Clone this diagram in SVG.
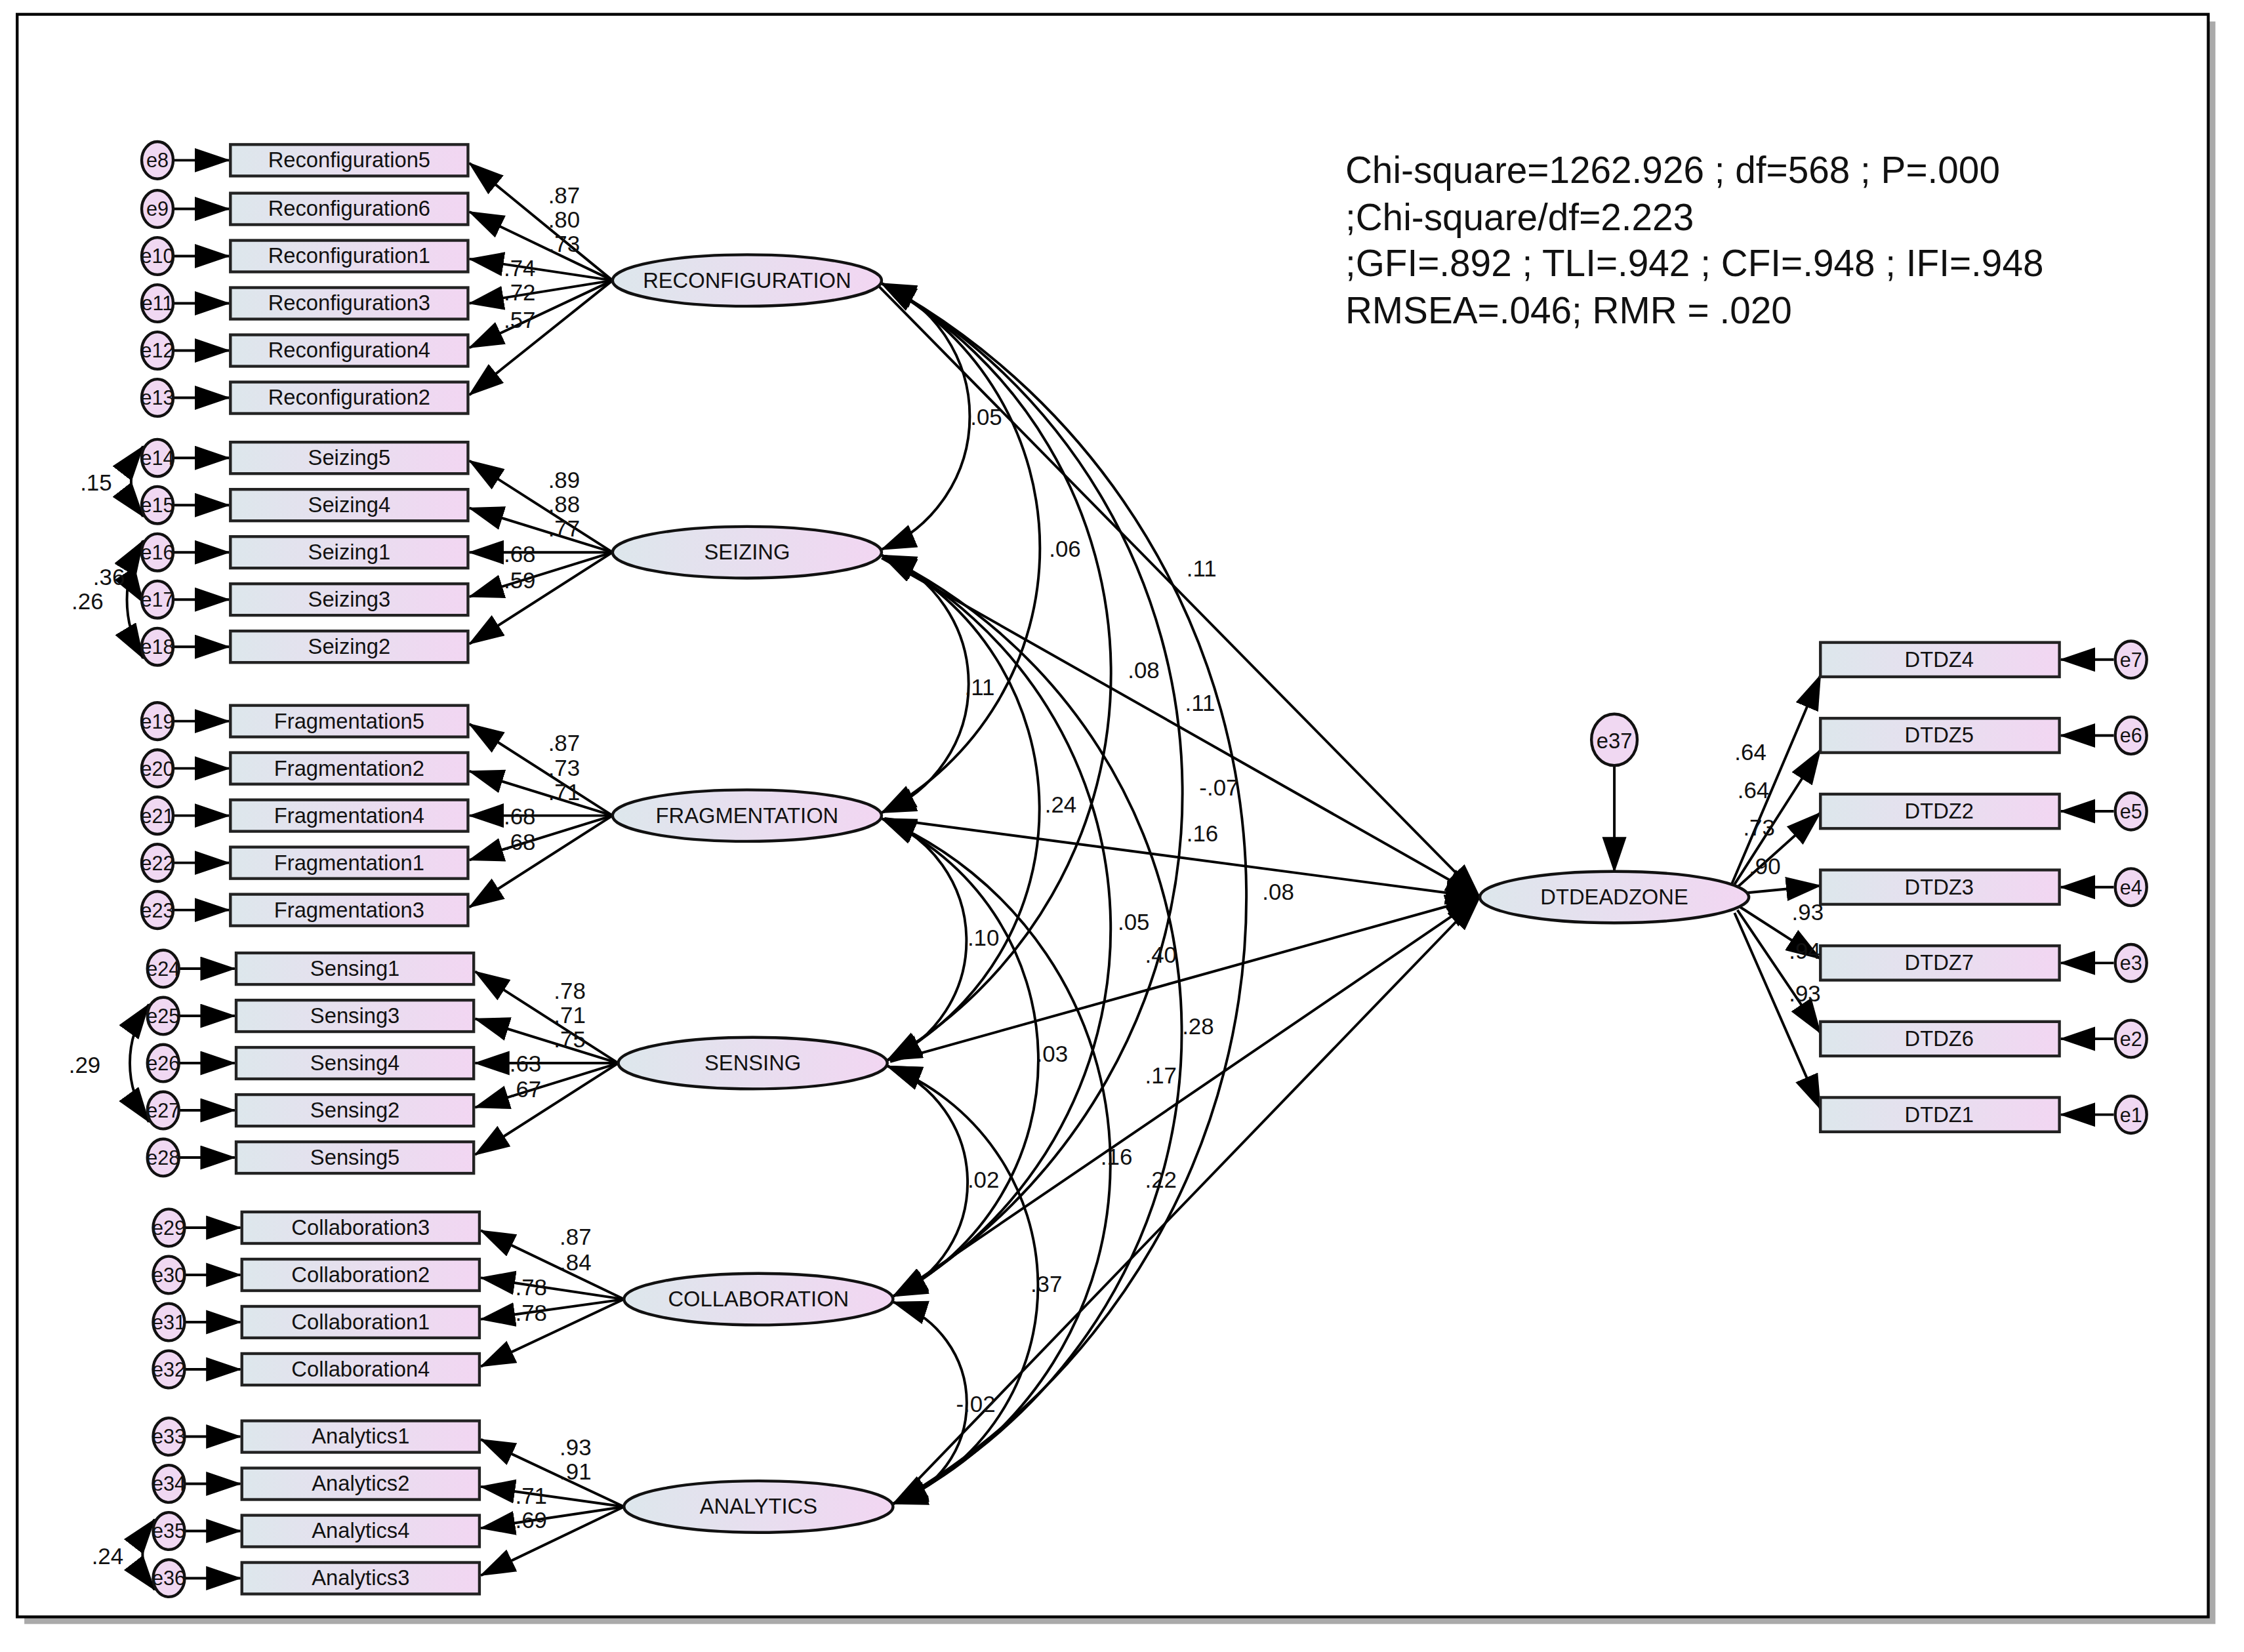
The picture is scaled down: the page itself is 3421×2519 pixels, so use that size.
<svg xmlns="http://www.w3.org/2000/svg" width="3421" height="2519" viewBox="0 0 3421 2519">
<defs>
<linearGradient id="g" x1="0" x2="1" y1="0" y2="0"><stop offset="0" stop-color="#dde7ec"/><stop offset="1" stop-color="#f2d6f2"/></linearGradient>
<marker id="a" markerUnits="userSpaceOnUse" markerWidth="26" markerHeight="18" refX="24" refY="8.5" orient="auto-start-reverse" viewBox="0 0 26 18"><path d="M0,0 L25,8.5 L0,17 z" fill="#000"/></marker>
<style>
.box{fill:url(#g);stroke:#222;stroke-width:2}
.lat{fill:url(#g);stroke:#111;stroke-width:2}
.err{fill:#f0d8f2;stroke:#111;stroke-width:2}
#connectors path{stroke:#000;stroke-width:1.8;fill:none;marker-end:url(#a)}
#connectors path.cv{marker-start:url(#a)}
text{font-family:"Liberation Sans",Arial,sans-serif;fill:#111}
.t{font-size:15px;text-anchor:middle}
.e{font-size:14px;text-anchor:middle}
.l{font-size:16px}
.f{font-size:26px}
</style>
</defs>
<rect width="3421" height="2519" fill="#fff"/>
<g transform="scale(2.1818)">
<rect x="17" y="15" width="1531" height="1120" fill="#aaa"/>
<rect x="12" y="10" width="1531" height="1120" fill="#fff" stroke="#000" stroke-width="2"/>
<g id="fit"><text class="f" x="940" y="128">Chi-square=1262.926 ; df=568 ; P=.000</text><text class="f" x="940" y="161">;Chi-square/df=2.223</text><text class="f" x="940" y="193">;GFI=.892 ; TLI=.942 ; CFI=.948 ; IFI=.948</text><text class="f" x="940" y="226">RMSEA=.046; RMR = .020</text></g>

<g id="connectors">
<path d="M121,112H160"/><path d="M121,146H160"/><path d="M121,179H160"/><path d="M121,212H160"/><path d="M121,245H160"/><path d="M121,278H160"/>
<path d="M121,320H160"/><path d="M121,353H160"/><path d="M121,386H160"/><path d="M121,419H160"/><path d="M121,452H160"/>
<path d="M121,504H160"/><path d="M121,537H160"/><path d="M121,570H160"/><path d="M121,603H160"/><path d="M121,636H160"/>
<path d="M125,677H164"/><path d="M125,710H164"/><path d="M125,743H164"/><path d="M125,776H164"/><path d="M125,809H164"/>
<path d="M129,858H168"/><path d="M129,891H168"/><path d="M129,924H168"/><path d="M129,957H168"/>
<path d="M129,1004H168"/><path d="M129,1037H168"/><path d="M129,1070H168"/><path d="M129,1103H168"/>
<path d="M428,196L328,114"/><path d="M428,196L328,148"/><path d="M428,196L328,181"/><path d="M428,196L328,212"/><path d="M428,196L328,243"/><path d="M428,196L328,276"/>
<path d="M428,386L328,322"/><path d="M428,386L328,355"/><path d="M428,386L328,386"/><path d="M428,386L328,417"/><path d="M428,386L328,450"/>
<path d="M428,570L328,506"/><path d="M428,570L328,539"/><path d="M428,570L328,570"/><path d="M428,570L328,601"/><path d="M428,570L328,634"/>
<path d="M432,743L332,679"/><path d="M432,743L332,712"/><path d="M432,743L332,743"/><path d="M432,743L332,774"/><path d="M432,743L332,807"/>
<path d="M436,908L336,860"/><path d="M436,908L336,893"/><path d="M436,908L336,922"/><path d="M436,908L336,955"/>
<path d="M436,1053L336,1006"/><path d="M436,1053L336,1039"/><path d="M436,1053L336,1068"/><path d="M436,1053L336,1101"/>
<path d="M614,200L1034,627"/><path d="M616,390L1034,627"/><path d="M618,572L1034,627"/><path d="M622,742L1034,627"/><path d="M626,905L1034,627"/><path d="M626,1050L1034,627"/>
<path d="M1128,535V609"/>
<path d="M1210,618L1272,472"/><path d="M1212,618L1272,524"/><path d="M1214,620L1272,568"/><path d="M1220,624L1272,619"/><path d="M1216,634L1272,670"/><path d="M1214,636L1272,722"/><path d="M1212,638L1272,775"/>
<path d="M1477,461H1440"/><path d="M1477,514H1440"/><path d="M1477,567H1440"/><path d="M1477,620H1440"/><path d="M1477,673H1440"/><path d="M1477,726H1440"/><path d="M1477,779H1440"/>
<path class="cv" d="M616,198A101 101 0 0 1 616,384"/>
<path class="cv" d="M616,198A210 210 0 0 1 616,568"/>
<path class="cv" d="M616,198A312 312 0 0 1 620,741"/>
<path class="cv" d="M616,198A407 407 0 0 1 624,906"/>
<path class="cv" d="M616,198A488 488 0 0 1 624,1051"/>
<path class="cv" d="M616,388A97 97 0 0 1 616,568"/>
<path class="cv" d="M616,388A198 198 0 0 1 620,741"/>
<path class="cv" d="M616,388A293 293 0 0 1 624,906"/>
<path class="cv" d="M616,388A370 370 0 0 1 624,1051"/>
<path class="cv" d="M616,572A91 91 0 0 1 620,741"/>
<path class="cv" d="M616,572A185 185 0 0 1 624,906"/>
<path class="cv" d="M616,572A262 262 0 0 1 624,1051"/>
<path class="cv" d="M620,745A87 87 0 0 1 624,906"/>
<path class="cv" d="M620,745A165 165 0 0 1 624,1051"/>
<path class="cv" d="M624,910A74 74 0 0 1 624,1051"/>
<path class="cv" d="M100,312A40 40 0 0 0 100,361"/>
<path class="cv" d="M100,378A40 40 0 0 0 100,421"/>
<path class="cv" d="M100,378A80 80 0 0 0 100,460"/>
<path class="cv" d="M104,702A70 70 0 0 0 104,784"/>
<path class="cv" d="M108,1062A40 40 0 0 0 108,1111"/>
</g>

<g id="indicators">
<g id="n-r5"><rect class="box" x="161" y="101" width="166" height="22"/><text class="t" x="244" y="117">Reconfiguration5</text></g>
<g id="n-r6"><rect class="box" x="161" y="135" width="166" height="22"/><text class="t" x="244" y="151">Reconfiguration6</text></g>
<g id="n-r1"><rect class="box" x="161" y="168" width="166" height="22"/><text class="t" x="244" y="184">Reconfiguration1</text></g>
<g id="n-r3"><rect class="box" x="161" y="201" width="166" height="22"/><text class="t" x="244" y="217">Reconfiguration3</text></g>
<g id="n-r4"><rect class="box" x="161" y="234" width="166" height="22"/><text class="t" x="244" y="250">Reconfiguration4</text></g>
<g id="n-r2"><rect class="box" x="161" y="267" width="166" height="22"/><text class="t" x="244" y="283">Reconfiguration2</text></g>
<g id="n-s5"><rect class="box" x="161" y="309" width="166" height="22"/><text class="t" x="244" y="325">Seizing5</text></g>
<g id="n-s4"><rect class="box" x="161" y="342" width="166" height="22"/><text class="t" x="244" y="358">Seizing4</text></g>
<g id="n-s1"><rect class="box" x="161" y="375" width="166" height="22"/><text class="t" x="244" y="391">Seizing1</text></g>
<g id="n-s3"><rect class="box" x="161" y="408" width="166" height="22"/><text class="t" x="244" y="424">Seizing3</text></g>
<g id="n-s2"><rect class="box" x="161" y="441" width="166" height="22"/><text class="t" x="244" y="457">Seizing2</text></g>
<g id="n-f5"><rect class="box" x="161" y="493" width="166" height="22"/><text class="t" x="244" y="509">Fragmentation5</text></g>
<g id="n-f2"><rect class="box" x="161" y="526" width="166" height="22"/><text class="t" x="244" y="542">Fragmentation2</text></g>
<g id="n-f4"><rect class="box" x="161" y="559" width="166" height="22"/><text class="t" x="244" y="575">Fragmentation4</text></g>
<g id="n-f1"><rect class="box" x="161" y="592" width="166" height="22"/><text class="t" x="244" y="608">Fragmentation1</text></g>
<g id="n-f3"><rect class="box" x="161" y="625" width="166" height="22"/><text class="t" x="244" y="641">Fragmentation3</text></g>
<g id="n-se1"><rect class="box" x="165" y="666" width="166" height="22"/><text class="t" x="248" y="682">Sensing1</text></g>
<g id="n-se3"><rect class="box" x="165" y="699" width="166" height="22"/><text class="t" x="248" y="715">Sensing3</text></g>
<g id="n-se4"><rect class="box" x="165" y="732" width="166" height="22"/><text class="t" x="248" y="748">Sensing4</text></g>
<g id="n-se2"><rect class="box" x="165" y="765" width="166" height="22"/><text class="t" x="248" y="781">Sensing2</text></g>
<g id="n-se5"><rect class="box" x="165" y="798" width="166" height="22"/><text class="t" x="248" y="814">Sensing5</text></g>
<g id="n-c3"><rect class="box" x="169" y="847" width="166" height="22"/><text class="t" x="252" y="863">Collaboration3</text></g>
<g id="n-c2"><rect class="box" x="169" y="880" width="166" height="22"/><text class="t" x="252" y="896">Collaboration2</text></g>
<g id="n-c1"><rect class="box" x="169" y="913" width="166" height="22"/><text class="t" x="252" y="929">Collaboration1</text></g>
<g id="n-c4"><rect class="box" x="169" y="946" width="166" height="22"/><text class="t" x="252" y="962">Collaboration4</text></g>
<g id="n-a1"><rect class="box" x="169" y="993" width="166" height="22"/><text class="t" x="252" y="1009">Analytics1</text></g>
<g id="n-a2"><rect class="box" x="169" y="1026" width="166" height="22"/><text class="t" x="252" y="1042">Analytics2</text></g>
<g id="n-a4"><rect class="box" x="169" y="1059" width="166" height="22"/><text class="t" x="252" y="1075">Analytics4</text></g>
<g id="n-a3"><rect class="box" x="169" y="1092" width="166" height="22"/><text class="t" x="252" y="1108">Analytics3</text></g>
<g id="n-d4"><rect class="box" x="1272" y="449" width="167" height="24"/><text class="t" x="1355" y="466">DTDZ4</text></g>
<g id="n-d5"><rect class="box" x="1272" y="502" width="167" height="24"/><text class="t" x="1355" y="519">DTDZ5</text></g>
<g id="n-d2"><rect class="box" x="1272" y="555" width="167" height="24"/><text class="t" x="1355" y="572">DTDZ2</text></g>
<g id="n-d3"><rect class="box" x="1272" y="608" width="167" height="24"/><text class="t" x="1355" y="625">DTDZ3</text></g>
<g id="n-d7"><rect class="box" x="1272" y="661" width="167" height="24"/><text class="t" x="1355" y="678">DTDZ7</text></g>
<g id="n-d6"><rect class="box" x="1272" y="714" width="167" height="24"/><text class="t" x="1355" y="731">DTDZ6</text></g>
<g id="n-d1"><rect class="box" x="1272" y="767" width="167" height="24"/><text class="t" x="1355" y="784">DTDZ1</text></g>
</g>

<g id="errors">
<g><ellipse class="err" cx="110" cy="112" rx="11" ry="13"/><text class="e" x="110" y="117">e8</text></g>
<g><ellipse class="err" cx="110" cy="146" rx="11" ry="13"/><text class="e" x="110" y="151">e9</text></g>
<g><ellipse class="err" cx="110" cy="179" rx="11" ry="13"/><text class="e" x="110" y="184">e10</text></g>
<g><ellipse class="err" cx="110" cy="212" rx="11" ry="13"/><text class="e" x="110" y="217">e11</text></g>
<g><ellipse class="err" cx="110" cy="245" rx="11" ry="13"/><text class="e" x="110" y="250">e12</text></g>
<g><ellipse class="err" cx="110" cy="278" rx="11" ry="13"/><text class="e" x="110" y="283">e13</text></g>
<g><ellipse class="err" cx="110" cy="320" rx="11" ry="13"/><text class="e" x="110" y="325">e14</text></g>
<g><ellipse class="err" cx="110" cy="353" rx="11" ry="13"/><text class="e" x="110" y="358">e15</text></g>
<g><ellipse class="err" cx="110" cy="386" rx="11" ry="13"/><text class="e" x="110" y="391">e16</text></g>
<g><ellipse class="err" cx="110" cy="419" rx="11" ry="13"/><text class="e" x="110" y="424">e17</text></g>
<g><ellipse class="err" cx="110" cy="452" rx="11" ry="13"/><text class="e" x="110" y="457">e18</text></g>
<g><ellipse class="err" cx="110" cy="504" rx="11" ry="13"/><text class="e" x="110" y="509">e19</text></g>
<g><ellipse class="err" cx="110" cy="537" rx="11" ry="13"/><text class="e" x="110" y="542">e20</text></g>
<g><ellipse class="err" cx="110" cy="570" rx="11" ry="13"/><text class="e" x="110" y="575">e21</text></g>
<g><ellipse class="err" cx="110" cy="603" rx="11" ry="13"/><text class="e" x="110" y="608">e22</text></g>
<g><ellipse class="err" cx="110" cy="636" rx="11" ry="13"/><text class="e" x="110" y="641">e23</text></g>
<g><ellipse class="err" cx="114" cy="677" rx="11" ry="13"/><text class="e" x="114" y="682">e24</text></g>
<g><ellipse class="err" cx="114" cy="710" rx="11" ry="13"/><text class="e" x="114" y="715">e25</text></g>
<g><ellipse class="err" cx="114" cy="743" rx="11" ry="13"/><text class="e" x="114" y="748">e26</text></g>
<g><ellipse class="err" cx="114" cy="776" rx="11" ry="13"/><text class="e" x="114" y="781">e27</text></g>
<g><ellipse class="err" cx="114" cy="809" rx="11" ry="13"/><text class="e" x="114" y="814">e28</text></g>
<g><ellipse class="err" cx="118" cy="858" rx="11" ry="13"/><text class="e" x="118" y="863">e29</text></g>
<g><ellipse class="err" cx="118" cy="891" rx="11" ry="13"/><text class="e" x="118" y="896">e30</text></g>
<g><ellipse class="err" cx="118" cy="924" rx="11" ry="13"/><text class="e" x="118" y="929">e31</text></g>
<g><ellipse class="err" cx="118" cy="957" rx="11" ry="13"/><text class="e" x="118" y="962">e32</text></g>
<g><ellipse class="err" cx="118" cy="1004" rx="11" ry="13"/><text class="e" x="118" y="1009">e33</text></g>
<g><ellipse class="err" cx="118" cy="1037" rx="11" ry="13"/><text class="e" x="118" y="1042">e34</text></g>
<g><ellipse class="err" cx="118" cy="1070" rx="11" ry="13"/><text class="e" x="118" y="1075">e35</text></g>
<g><ellipse class="err" cx="118" cy="1103" rx="11" ry="13"/><text class="e" x="118" y="1108">e36</text></g>
<g><ellipse class="err" cx="1489" cy="461" rx="11" ry="13"/><text class="e" x="1489" y="466">e7</text></g>
<g><ellipse class="err" cx="1489" cy="514" rx="11" ry="13"/><text class="e" x="1489" y="519">e6</text></g>
<g><ellipse class="err" cx="1489" cy="567" rx="11" ry="13"/><text class="e" x="1489" y="572">e5</text></g>
<g><ellipse class="err" cx="1489" cy="620" rx="11" ry="13"/><text class="e" x="1489" y="625">e4</text></g>
<g><ellipse class="err" cx="1489" cy="673" rx="11" ry="13"/><text class="e" x="1489" y="678">e3</text></g>
<g><ellipse class="err" cx="1489" cy="726" rx="11" ry="13"/><text class="e" x="1489" y="731">e2</text></g>
<g><ellipse class="err" cx="1489" cy="779" rx="11" ry="13"/><text class="e" x="1489" y="784">e1</text></g>
<g id="e37"><ellipse class="err" cx="1128" cy="517" rx="16" ry="18"/><text class="t" x="1128" y="523">e37</text></g>
</g>

<g id="latents">
<g id="RECONFIGURATION"><ellipse class="lat" cx="522" cy="196" rx="94" ry="18"/><text class="t" x="522" y="201">RECONFIGURATION</text></g>
<g id="SEIZING"><ellipse class="lat" cx="522" cy="386" rx="94" ry="18"/><text class="t" x="522" y="391">SEIZING</text></g>
<g id="FRAGMENTATION"><ellipse class="lat" cx="522" cy="570" rx="94" ry="18"/><text class="t" x="522" y="575">FRAGMENTATION</text></g>
<g id="SENSING"><ellipse class="lat" cx="526" cy="743" rx="94" ry="18"/><text class="t" x="526" y="748">SENSING</text></g>
<g id="COLLABORATION"><ellipse class="lat" cx="530" cy="908" rx="94" ry="18"/><text class="t" x="530" y="913">COLLABORATION</text></g>
<g id="ANALYTICS"><ellipse class="lat" cx="530" cy="1053" rx="94" ry="18"/><text class="t" x="530" y="1058">ANALYTICS</text></g>
<g id="DTDEADZONE"><ellipse class="lat" cx="1128" cy="627" rx="94" ry="18"/><text class="t" x="1128" y="632">DTDEADZONE</text></g>
</g>

<g id="labels">
<text class="l" x="383" y="142">.87</text><text class="l" x="383" y="159">.80</text><text class="l" x="383" y="176">.73</text><text class="l" x="352" y="193">.74</text><text class="l" x="352" y="210">.72</text><text class="l" x="352" y="229">.57</text>
<text class="l" x="383" y="341">.89</text><text class="l" x="383" y="358">.88</text><text class="l" x="383" y="375">.77</text><text class="l" x="352" y="393">.68</text><text class="l" x="352" y="411">.59</text>
<text class="l" x="383" y="525">.87</text><text class="l" x="383" y="542">.73</text><text class="l" x="383" y="559">.71</text><text class="l" x="352" y="576">.68</text><text class="l" x="352" y="594">.68</text>
<text class="l" x="387" y="698">.78</text><text class="l" x="387" y="715">.71</text><text class="l" x="387" y="732">.75</text><text class="l" x="356" y="749">.63</text><text class="l" x="356" y="767">.67</text>
<text class="l" x="391" y="870">.87</text><text class="l" x="391" y="888">.84</text><text class="l" x="360" y="905">.78</text><text class="l" x="360" y="923">.78</text>
<text class="l" x="391" y="1017">.93</text><text class="l" x="391" y="1034">.91</text><text class="l" x="360" y="1051">.71</text><text class="l" x="360" y="1068">.69</text>
<text class="l" x="1212" y="531">.64</text><text class="l" x="1214" y="558">.64</text><text class="l" x="1218" y="584">.73</text><text class="l" x="1222" y="611">.90</text><text class="l" x="1252" y="643">.93</text><text class="l" x="1250" y="670">.94</text><text class="l" x="1250" y="700">.93</text>
<text class="l" x="678" y="297">.05</text><text class="l" x="733" y="389">.06</text><text class="l" x="829" y="403">.11</text><text class="l" x="788" y="474">.08</text><text class="l" x="828" y="497">.11</text><text class="l" x="838" y="556">-.07</text><text class="l" x="674" y="486">.11</text><text class="l" x="730" y="568">.24</text><text class="l" x="829" y="588">.16</text><text class="l" x="882" y="629">.08</text><text class="l" x="676" y="661">.10</text><text class="l" x="781" y="650">.05</text><text class="l" x="800" y="673">.40</text><text class="l" x="826" y="723">.28</text><text class="l" x="724" y="742">.03</text><text class="l" x="800" y="757">.17</text><text class="l" x="676" y="830">.02</text><text class="l" x="769" y="814">.16</text><text class="l" x="800" y="830">.22</text><text class="l" x="720" y="903">.37</text><text class="l" x="668" y="987">-.02</text>
<text class="l" x="56" y="343">.15</text><text class="l" x="65" y="409">.36</text><text class="l" x="50" y="426">.26</text><text class="l" x="48" y="750">.29</text><text class="l" x="64" y="1093">.24</text>
</g>
</g>
</svg>
